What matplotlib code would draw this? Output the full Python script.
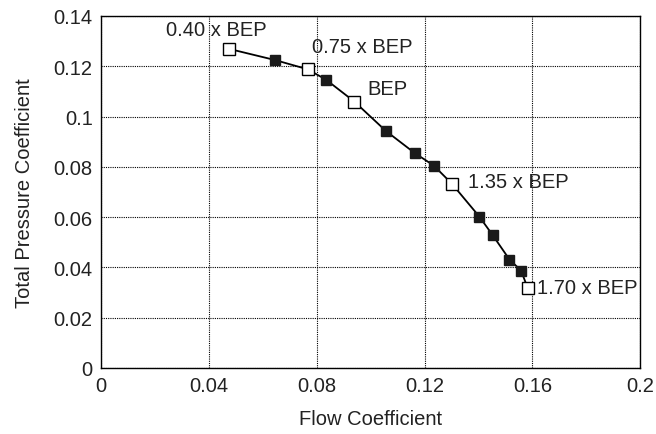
import matplotlib.pyplot as plt

plt.rcParams['font.family'] = ['Liberation Sans', 'DejaVu Sans']

# curve points (flow coefficient, total pressure coefficient)
flow = [0.0475, 0.0644, 0.0766, 0.0834, 0.0940, 0.1056, 0.1163, 0.1234,
        0.1301, 0.1403, 0.1452, 0.1515, 0.1558, 0.1582]
pressure = [0.1269, 0.1225, 0.1188, 0.1147, 0.1059, 0.0943, 0.0855, 0.0805,
            0.0733, 0.0602, 0.0529, 0.0431, 0.0387, 0.0319]

# operating points shown as open squares
op_flow = [0.0475, 0.0766, 0.0940, 0.1301, 0.1582]
op_pressure = [0.1269, 0.1188, 0.1059, 0.0733, 0.0319]
op_labels = ["0.40 x BEP", "0.75 x BEP", "BEP", "1.35 x BEP", "1.70 x BEP"]
label_offsets = [(-9, 14), (3.5, 16.5), (9.5, 9.5), (12, 1.5), (7, 0)]
label_ha = ["center", "left", "left", "left", "left"]

fig = plt.figure(figsize=(6.56, 4.35), dpi=100)
ax = fig.add_axes([0.154, 0.152, 0.822, 0.809])

ax.plot(flow, pressure, color="black", lw=1.3, marker="s", ms=6.5,
        mfc="#1a1a1a", mec="#1a1a1a", zorder=3)
ax.plot(op_flow, op_pressure, ls="none", marker="s", ms=9, mfc="white",
        mec="black", mew=1.0, zorder=4)

for x, y, lab, off, ha in zip(op_flow, op_pressure, op_labels, label_offsets, label_ha):
    ax.annotate(lab, (x, y), xytext=off, textcoords="offset points",
                ha=ha, va="center", fontsize=14.5, color="#222222")

ax.set_xlim(0, 0.2)
ax.set_ylim(0, 0.14)
ax.set_xticks([0, 0.04, 0.08, 0.12, 0.16, 0.2])
ax.set_xticklabels(["0", "0.04", "0.08", "0.12", "0.16", "0.2"])
ax.set_yticks([0, 0.02, 0.04, 0.06, 0.08, 0.1, 0.12, 0.14])
ax.set_yticklabels(["0", "0.02", "0.04", "0.06", "0.08", "0.1", "0.12", "0.14"])
ax.tick_params(length=0, labelsize=14.5, pad=6, labelcolor="#222222")
ax.grid(True, color="black", ls=(0, (1, 1)), lw=0.8)
for s in ax.spines.values():
    s.set_linewidth(1.0)
ax.set_xlabel("Flow Coefficient", fontsize=14.5, labelpad=10, color="#222222")
ax.set_ylabel("Total Pressure Coefficient", fontsize=14.5, labelpad=14, color="#222222")

plt.savefig("out.png", dpi=100)
